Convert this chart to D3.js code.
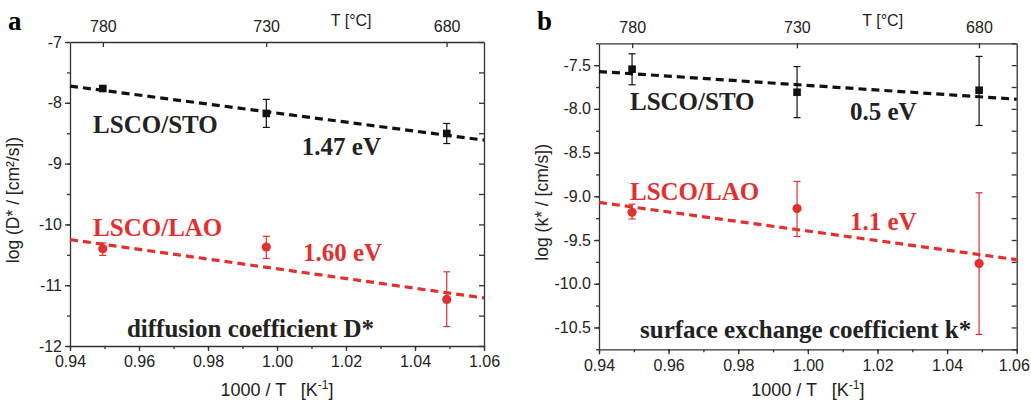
<!DOCTYPE html>
<html>
<head>
<meta charset="utf-8">
<script src="https://cdn.jsdelivr.net/npm/d3@7"></script>
<style>
  body { margin: 0; background: #fff; }
  svg text { font-family: "Liberation Sans", Arial, sans-serif; }
  .anno { font-family: "Liberation Serif", "Times New Roman", serif !important; font-weight: bold; }
</style>
</head>
<body>
<svg id="chart" width="1031" height="400"></svg>
<script>
// inverse temperature of the three measurements (1000/T, K^-1)
const invT = [0.9495, 0.9969, 1.0492];
const topTemps = [780, 730, 680];

// panel a: diffusion coefficient D*
const dSto = [-7.765, -8.175, -8.504];
const dStoHi = [-7.74, -7.944, -8.34];
const dStoLo = [-7.79, -8.405, -8.67];
const dLao = [-10.399, -10.372, -11.234];
const dLaoHi = [-10.306, -10.196, -10.78];
const dLaoLo = [-10.51, -10.56, -11.68];

// panel b: surface exchange coefficient k*
const kSto = [-7.546, -7.81, -7.787];
const kStoHi = [-7.37, -7.516, -7.40];
const kStoLo = [-7.725, -8.10, -8.19];
const kLao = [-9.183, -9.14, -9.77];
const kLaoHi = [-9.09, -8.83, -8.96];
const kLaoLo = [-9.26, -9.46, -10.58];

// Arrhenius fit lines, values at x = 0.94 and 1.06
const fitX = [0.94, 1.06];
const dStoFit = [-7.725, -8.614];
const dLaoFit = [-10.25, -11.21];
const kStoFit = [-7.573, -7.89];
const kLaoFit = [-9.07, -9.725];

const RED = '#e2302f';
const BLACK = '#111';
const AXIS = '#333';

const svg = d3.select('#chart');

function series(ys, hi, lo) {
  return invT.map((x, i) => ({ x, y: ys[i], hi: hi[i], lo: lo[i] }));
}

function drawPanel(o) {
  const g = svg.append('g');
  const x = d3.scaleLinear().domain([0.94, 1.06]).range([o.left, o.right]);
  const y = d3.scaleLinear().domain(o.yDomain).range([o.bottom, o.top]);

  // minor ticks
  const xMinor = d3.range(0.94, 1.0601, 0.01);
  const yMinor = d3.range(o.yDomain[0], o.yDomain[1] + 1e-6, o.yMinorStep);

  // bottom axis
  g.append('g')
    .attr('transform', `translate(0,${o.bottom})`)
    .call(d3.axisBottom(x).tickValues(xMinor).tickSize(3).tickFormat(''))
    .call(a => a.select('.domain').remove());
  g.append('g')
    .attr('transform', `translate(0,${o.bottom})`)
    .call(d3.axisBottom(x).tickValues([0.94, 0.96, 0.98, 1.00, 1.02, 1.04, 1.06])
      .tickSize(5).tickSizeOuter(0).tickPadding(5).tickFormat(d => d.toFixed(2)))
    .call(a => a.selectAll('text').attr('font-size', 16).attr('fill', '#222'))
    .call(a => a.selectAll('.tick:last-of-type text').attr('dx', o.lastTickShift || 0));

  // left axis
  g.append('g')
    .attr('transform', `translate(${o.left},0)`)
    .call(d3.axisLeft(y).tickValues(yMinor).tickSize(3).tickFormat(''))
    .call(a => a.select('.domain').remove());
  g.append('g')
    .attr('transform', `translate(${o.left},0)`)
    .call(d3.axisLeft(y).tickValues(o.yTicks).tickSize(5).tickSizeOuter(0).tickPadding(3)
      .tickFormat(o.yFormat))
    .call(a => a.selectAll('text').attr('font-size', 16).attr('fill', '#222'));

  // right axis, inward ticks
  g.append('g')
    .attr('transform', `translate(${o.right},0)`)
    .call(d3.axisRight(y).tickValues(yMinor).tickSize(-5).tickSizeOuter(0).tickFormat(''));

  // top axis in temperature
  g.append('g')
    .attr('transform', `translate(0,${o.top})`)
    .call(d3.axisTop(x).tickValues(topTemps.map(t => 1000 / (t + 273.15)))
      .tickSize(-5).tickSizeOuter(0).tickPadding(10)
      .tickFormat((d, i) => topTemps[i]))
    .call(a => a.selectAll('text').attr('font-size', 16).attr('fill', '#222'));

  g.selectAll('.domain, .tick line').attr('stroke', AXIS).attr('stroke-width', 1.3);

  g.append('text')
    .attr('x', x(1.0215)).attr('y', 26)
    .attr('text-anchor', 'middle').attr('font-size', 16).attr('fill', '#222')
    .text('T [°C]');

  // panel letter
  g.append('text').attr('class', 'anno')
    .attr('x', o.left - 62).attr('y', 30).attr('font-size', 27)
    .text(o.letter);

  // axis titles
  g.append('text')
    .attr('x', (o.left + o.right) / 2).attr('y', 396)
    .attr('text-anchor', 'middle').attr('font-size', 18).attr('fill', '#222')
    .html('1000 / T &#160;&#160;[K<tspan dy="-7" font-size="12">-1</tspan><tspan dy="7">]</tspan>');
  g.append('text')
    .attr('transform', `translate(${o.left - 51},${(o.top + o.bottom) / 2 + 6}) rotate(-90)`)
    .attr('text-anchor', 'middle').attr('font-size', 17.5).attr('fill', '#222')
    .text(o.yTitle);

  // fit lines
  const line = d3.line().x(d => x(d[0])).y(d => y(d[1]));
  o.groups.forEach(s => {
    g.append('path')
      .datum(fitX.map((fx, i) => [fx, s.fit[i]]))
      .attr('d', line).attr('fill', 'none')
      .attr('stroke', s.color).attr('stroke-width', 3.2)
      .attr('stroke-dasharray', '8,5');
  });

  // error bars and markers
  o.groups.forEach(s => {
    const eg = g.append('g');
    const pts = eg.selectAll('g').data(s.data).join('g');
    pts.append('line')
      .attr('x1', d => x(d.x)).attr('x2', d => x(d.x))
      .attr('y1', d => y(d.hi)).attr('y2', d => y(d.lo))
      .attr('stroke', s.color).attr('stroke-width', 1.2);
    [d => d.hi, d => d.lo].forEach(f => {
      pts.append('line')
        .attr('x1', d => x(d.x) - 3.5).attr('x2', d => x(d.x) + 3.5)
        .attr('y1', d => y(f(d))).attr('y2', d => y(f(d)))
        .attr('stroke', s.color).attr('stroke-width', 1.2);
    });
    if (s.shape === 'square') {
      pts.append('rect')
        .attr('x', d => x(d.x) - 3.8).attr('y', d => y(d.y) - 3.8)
        .attr('width', 7.6).attr('height', 7.6).attr('fill', s.color);
    } else {
      pts.append('circle')
        .attr('cx', d => x(d.x)).attr('cy', d => y(d.y))
        .attr('r', 4.6).attr('fill', s.color);
    }
  });

  // annotations
  o.labels.forEach(l => {
    g.append('text').attr('class', 'anno')
      .attr('x', x(l.x)).attr('y', y(l.y))
      .attr('font-size', 25).attr('fill', l.color)
      .text(l.text);
  });
}

drawPanel({
  letter: 'a', left: 70, right: 484, top: 42, bottom: 346,
  yDomain: [-12, -7], yTicks: [-12, -11, -10, -9, -8, -7], yMinorStep: 0.5,
  yFormat: d => String(d),
  yTitle: 'log (D* / [cm²/s])',
  groups: [
    { data: series(dSto, dStoHi, dStoLo), fit: dStoFit, color: BLACK, shape: 'square' },
    { data: series(dLao, dLaoHi, dLaoLo), fit: dLaoFit, color: RED, shape: 'circle' }
  ],
  labels: [
    { text: 'LSCO/STO', x: 0.9467, y: -8.497, color: '#222' },
    { text: '1.47 eV', x: 1.0072, y: -8.86, color: '#222' },
    { text: 'LSCO/LAO', x: 0.9467, y: -10.19, color: RED },
    { text: '1.60 eV', x: 1.0075, y: -10.60, color: RED },
    { text: 'diffusion coefficient D*', x: 0.9565, y: -11.85, color: '#222' }
  ]
});

drawPanel({
  letter: 'b', left: 599, right: 1016.7, top: 43.3, bottom: 349.3,
  lastTickShift: -3,
  yDomain: [-10.75, -7.25], yTicks: [-10.5, -10, -9.5, -9, -8.5, -8, -7.5], yMinorStep: 0.25,
  yFormat: d => d.toFixed(1),
  yTitle: 'log (k* / [cm/s])',
  groups: [
    { data: series(kSto, kStoHi, kStoLo), fit: kStoFit, color: BLACK, shape: 'square' },
    { data: series(kLao, kLaoHi, kLaoLo), fit: kLaoFit, color: RED, shape: 'circle' }
  ],
  labels: [
    { text: 'LSCO/STO', x: 0.9489, y: -8.013, color: '#222' },
    { text: '0.5 eV', x: 1.0121, y: -8.127, color: '#222' },
    { text: 'LSCO/LAO', x: 0.9489, y: -9.042, color: RED },
    { text: '1.1 eV', x: 1.0121, y: -9.385, color: RED },
    { text: 'surface exchange coefficient k*', x: 0.9518, y: -10.62, color: '#222' }
  ]
});
</script>
</body>
</html>
